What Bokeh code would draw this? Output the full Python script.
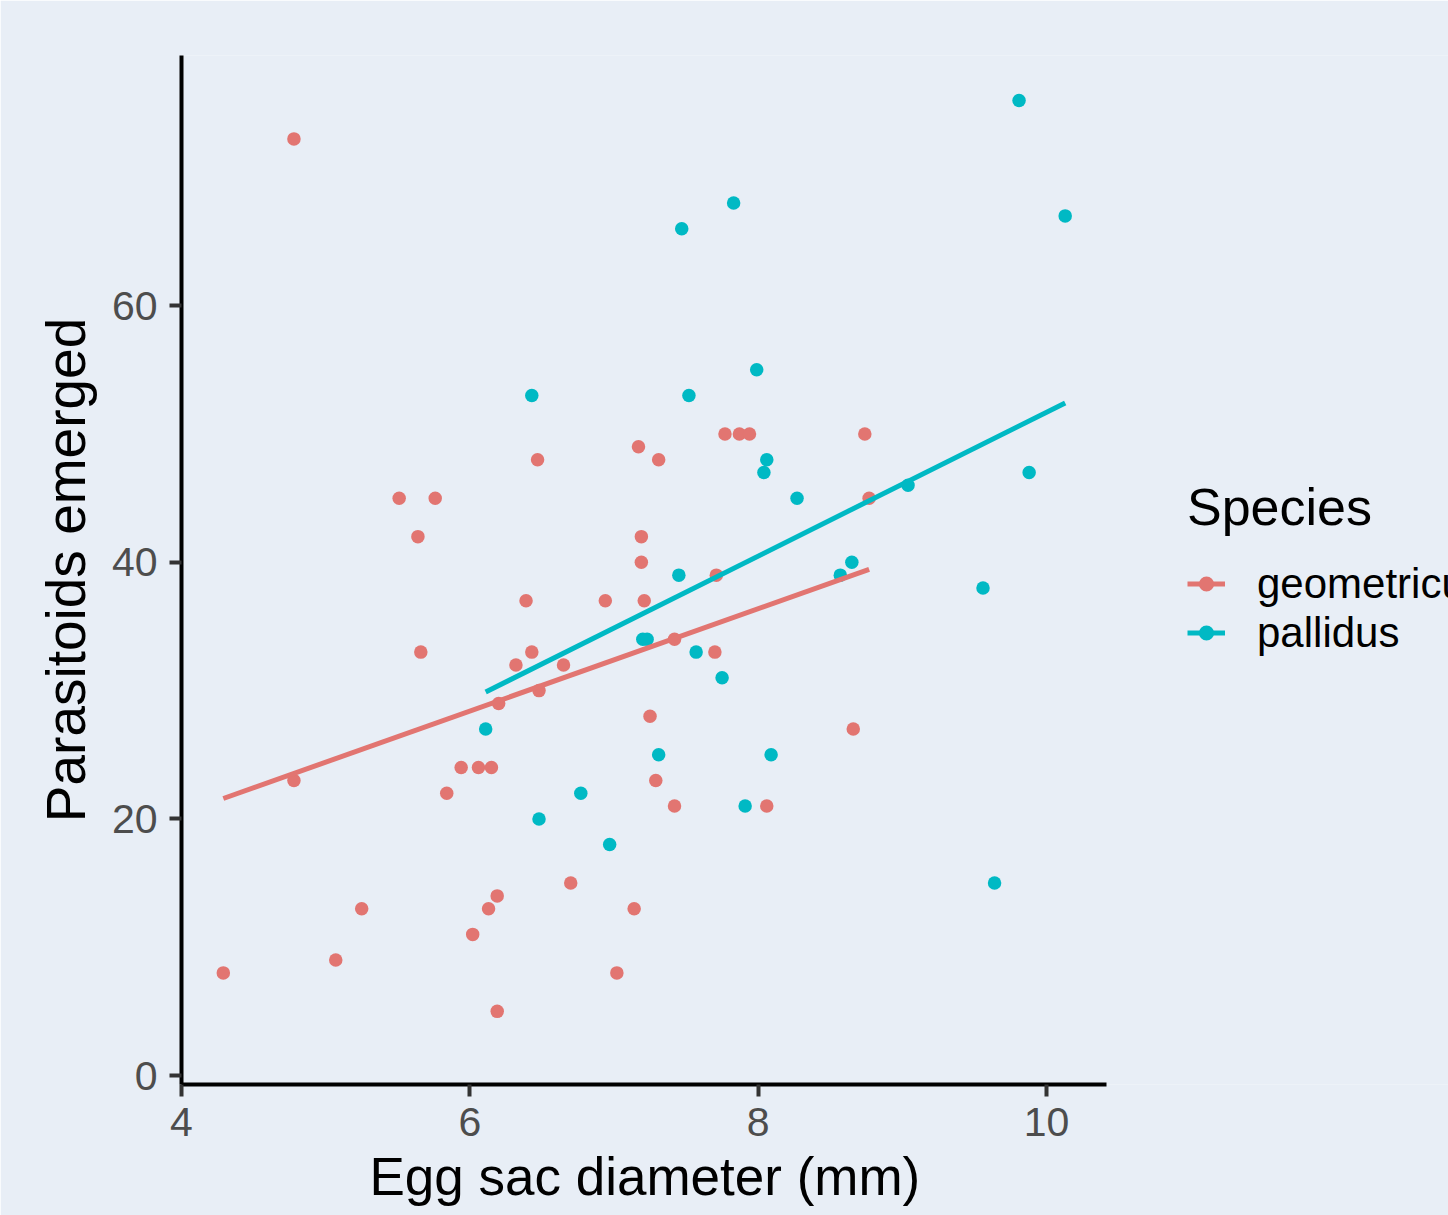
import numpy as np
from bokeh.plotting import figure
from bokeh.models import Range1d, FixedTicker, Legend, LegendItem, Title
from bokeh.embed import file_html
from bokeh.resources import INLINE

species = ["geometricus", "pallidus"]

geo_x = [4.29, 4.78, 4.78, 5.07, 5.25, 5.51, 5.76, 5.64, 5.66, 5.84,
         5.94, 6.02, 6.06, 6.15, 6.13, 6.19, 6.19, 6.20, 6.32, 6.39,
         6.43, 6.47, 6.48, 6.65, 6.70, 6.94, 7.02, 7.14, 7.17, 7.19,
         7.19, 7.21, 7.25, 7.29, 7.31, 7.42, 7.42, 7.70, 7.71, 7.77,
         7.87, 7.94, 8.06, 8.66, 8.74, 8.77]
geo_y = [8, 73, 23, 9, 13, 45, 45, 42, 33, 22,
         24, 11, 24, 24, 13, 14, 5, 29, 32, 37,
         33, 48, 30, 32, 15, 37, 8, 13, 49, 42,
         40, 37, 28, 23, 48, 34, 21, 33, 39, 50,
         50, 50, 21, 27, 50, 45]

pal_x = [6.11, 6.43, 6.48, 6.77, 6.97, 7.20, 7.23, 7.31, 7.45, 7.47,
         7.52, 7.57, 7.75, 7.83, 7.91, 7.99, 8.04, 8.06, 8.09, 8.27,
         8.57, 8.65, 9.04, 9.56, 9.64, 9.81, 9.88, 10.13]
pal_y = [27, 53, 20, 22, 18, 34, 34, 25, 39, 66,
         53, 33, 31, 68, 21, 55, 47, 48, 25, 45,
         39, 40, 46, 38, 15, 76, 47, 67]

x_ticks = [4, 6, 8, 10]
y_ticks = [0, 20, 40, 60]
x_axis_span = (4.0, 10.417)

colors = ["#E27571", "#00B9C4"]
bg = "#E8EEF6"
font = "Liberation Sans"

# The drawing area runs to the right edge so the legend (clipped like the
# reference) can sit beside the panel; the x axis itself is bounded.
p = figure(width=1448, height=1215, output_backend="svg", toolbar_location=None,
           x_range=Range1d(4.0, 12.789), y_range=Range1d(-0.7, 79.5),
           min_border_left=181, min_border_right=0, min_border_top=55,
           min_border_bottom=131)
p.background_fill_color = bg
p.border_fill_color = bg
p.outline_line_color = None
p.grid.visible = False

p.xaxis.ticker = FixedTicker(ticks=x_ticks)
p.yaxis.ticker = FixedTicker(ticks=y_ticks)
p.xaxis.bounds = x_axis_span
p.yaxis.axis_label = "Parasitoids emerged"
for ax in (p.xaxis, p.yaxis):
    ax.axis_line_width = 4
    ax.axis_line_color = "black"
    ax.major_tick_line_color = "#333333"
    ax.major_tick_line_width = 4
    ax.major_tick_out = 12
    ax.major_tick_in = 0
    ax.minor_tick_line_color = None
    ax.major_label_text_font = font
    ax.major_label_text_font_size = "41px"
    ax.major_label_text_color = "#4D4D4D"
    ax.axis_label_text_font = font
    ax.axis_label_text_font_size = "55px"
    ax.axis_label_text_font_style = "normal"
    ax.axis_label_text_color = "black"
p.yaxis.major_label_standoff = 12
p.xaxis.major_label_standoff = 11
p.yaxis.axis_label_standoff = 12

xlab = Title(text="Egg sac diameter (mm)", align="left", offset=188, standoff=13,
             text_font=font, text_font_size="53px", text_font_style="normal",
             text_color="black")
p.add_layout(xlab, "below")

groups = [(geo_x, geo_y), (pal_x, pal_y)]
pts = []
for (xs, ys), c in zip(groups, colors):
    pts.append(p.scatter(xs, ys, size=13.5, fill_color=c, line_color=None))

lines = []
for (xs, ys), c in zip(groups, colors):
    slope, icpt = np.polyfit(np.array(xs), np.array(ys), 1)
    lx = np.array([min(xs), max(xs)])
    lines.append(p.line(lx, slope * lx + icpt, line_color=c, line_width=5))

items = [LegendItem(label=s, renderers=[l, pt]) for s, l, pt in zip(species, lines, pts)]
legend = Legend(items=items, location=(1006, 427), title="Species",
                title_text_font=font, title_text_font_size="52px",
                title_text_font_style="normal",
                title_text_color="black", title_standoff=22,
                label_text_font=font, label_text_font_size="42px",
                label_text_color="black", label_standoff=32,
                label_height=49, glyph_height=49, glyph_width=38, spacing=0,
                padding=0, margin=0, border_line_color=None,
                background_fill_alpha=0)
p.add_layout(legend)

open("out.html", "w").write(file_html(p, INLINE))
